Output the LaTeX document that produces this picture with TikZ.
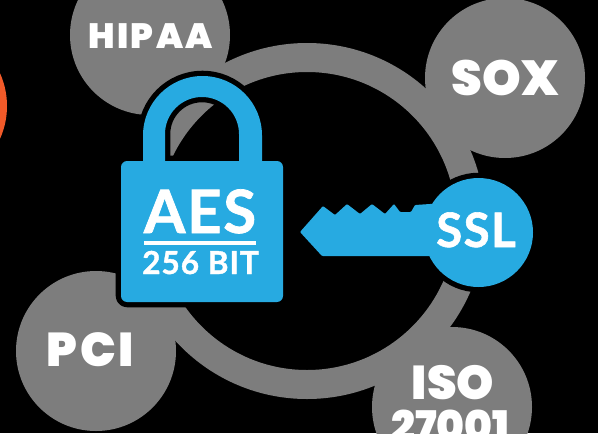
\documentclass[tikz,border=0pt]{standalone}
\usepackage{fontspec}
\newfontfamily\heavyfont{Poppins Black}
\newfontfamily\boldfont[FakeBold=1.2,LetterSpace=3]{Lato Bold}
\definecolor{ringgray}{RGB}{125,125,125}
\definecolor{lockblue}{RGB}{39,170,225}
\definecolor{dotorange}{RGB}{241,90,41}
\tikzset{
    badge/.style={fill=ringgray},
    blackedge/.style={draw=black,line width=6pt,line join=round},
    graytext/.style={anchor=base,text=white,inner sep=0pt,font=\heavyfont\fontsize{#1}{#1}\selectfont},
    bluetext/.style={anchor=base,text=white,inner sep=0pt,font=\boldfont\fontsize{#1}{#1}\selectfont}
}
\def\shacklepath{(143,165) -- (143,135.5) arc (180:360:59.5) -- (262,165)
    -- (239,165) -- (239,134) arc (360:180:37) -- (165,165) -- cycle}
\def\bodypath{[rounded corners=3.5pt] (121,161) rectangle (283,302)}
\def\bladepath{[rounded corners=0.5pt] (300,232) -- (323,206) -- (335,215) -- (347,204) -- (360,214)
    -- (372,204) -- (385,214) -- (394,204) -- (400,212) -- (411,212) -- (415,205)
    -- (445,203) -- (445,256) -- (322,256) -- cycle}
\begin{document}
\begin{tikzpicture}[x=0.02cm,y=-0.02cm]

\fill [black] (0,0) rectangle (598,433);
\useasboundingbox (0,0) rectangle (598,433);
\clip (0,0) rectangle (598,433);

% ring and the badges on it
\fill [badge, even odd rule] (307,221) circle (178) (307,221) circle (149);
\fill [badge] (150,35) circle (80);
\fill [badge] (505,78) circle (80);
\fill [badge] (96,351) circle (80);
\fill [badge] (452,407) circle (80);
\fill [dotorange] (-73,106) circle (80);

\node [graytext=20] (hipaa) at (150.5,48) {\addfontfeature{LetterSpace=7}HIPAA};
\node [graytext=28] (sox) at (505.5,95) {SOX};
\node [graytext=27] (pci) at (90.5,366) {\addfontfeature{LetterSpace=6}PCI};
\node [graytext=27] (iso) at (453,399) {ISO};
\node [graytext=24] (isonum) at (450.5,441) {27001};

% lock
\path [blackedge, even odd rule] \shacklepath;
\path [blackedge] \bodypath;
\fill [lockblue, even odd rule] \shacklepath;
\fill [lockblue] \bodypath;

\node [bluetext=34] (aes) at (200,233) {AES};
\fill [white] (144,241) rectangle (256,245);
\node [bluetext=18] (bits) at (200.5,274) {256 BIT};

% key
\path [blackedge] \bladepath;
\path [blackedge] (478.5,232.5) circle (54.5);
\fill [lockblue] \bladepath;
\fill [lockblue] (478.5,232.5) circle (54.5);

\node [bluetext=27] (ssl) at (476,247) {SSL};

\end{tikzpicture}
\end{document}
